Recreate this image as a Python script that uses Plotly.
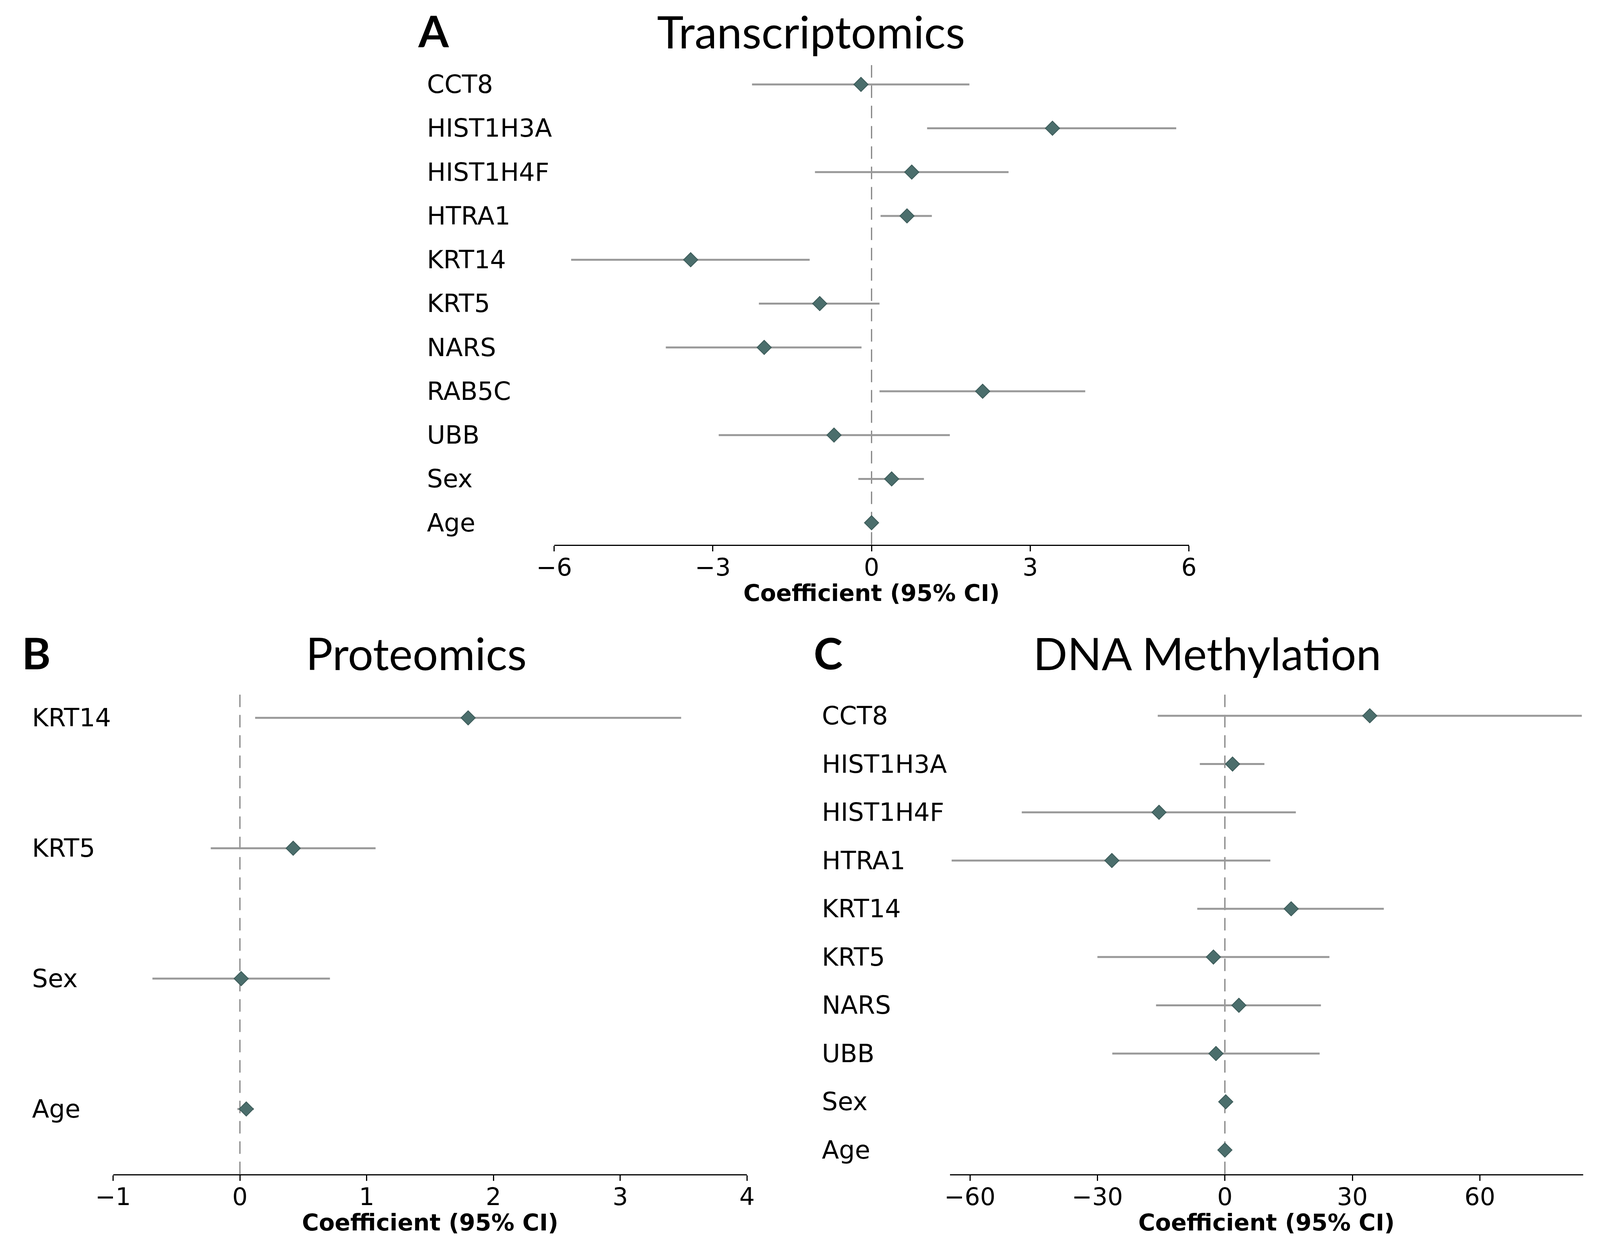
import plotly.graph_objects as go

# Panel A: Transcriptomics
trans_labels = ["CCT8", "HIST1H3A", "HIST1H4F", "HTRA1", "KRT14", "KRT5",
                "NARS", "RAB5C", "UBB", "Sex", "Age"]
trans_coef = [-0.2, 3.42, 0.76, 0.67, -3.42, -0.98, -2.03, 2.10, -0.71, 0.38, 0.0]
trans_low = [-2.26, 1.05, -1.07, 0.17, -5.68, -2.13, -3.89, 0.15, -2.89, -0.25, -0.02]
trans_high = [1.85, 5.76, 2.59, 1.14, -1.17, 0.15, -0.19, 4.04, 1.48, 0.99, 0.02]

# Panel B: Proteomics
prot_labels = ["KRT14", "KRT5", "Sex", "Age"]
prot_coef = [1.80, 0.42, 0.01, 0.05]
prot_low = [0.12, -0.23, -0.69, -0.02]
prot_high = [3.48, 1.07, 0.71, 0.11]

# Panel C: DNA Methylation
meth_labels = ["CCT8", "HIST1H3A", "HIST1H4F", "HTRA1", "KRT14", "KRT5",
               "NARS", "UBB", "Sex", "Age"]
meth_coef = [34.1, 1.8, -15.5, -26.6, 15.6, -2.7, 3.3, -2.1, 0.2, 0.0]
meth_low = [-15.8, -5.9, -47.8, -64.3, -6.5, -30.0, -16.2, -26.5, -0.8, -0.5]
meth_high = [84.0, 9.3, 16.7, 10.7, 37.4, 24.6, 22.6, 22.3, 1.2, 0.5]

x_ticks_a = [-6, -3, 0, 3, 6]
x_ticks_b = [-1, 0, 1, 2, 3, 4]
x_ticks_c = [-60, -30, 0, 30, 60]

MARKER = "#4b6e6c"
EDGE = "#3b5a58"
CI_GREY = "#999999"
LABEL_FONT = dict(family="DejaVu Sans", size=64, color="black")
TICK_FONT = dict(family="DejaVu Sans", size=62, color="black")
XTITLE_FONT = dict(family="DejaVu Sans", size=59, color="black")
TITLE_FONT = dict(family="Lato", size=115, color="black")

panels = [
    # labels, coef, low, high, axis suffix, x domain, y domain, x range, y range, ticks, label x
    (trans_labels, trans_coef, trans_low, trans_high, "",
     [0.340, 0.7448], [0.5614, 0.9519], [-6, 6], [10.5, -0.5], x_ticks_a, 0.2583),
    (prot_labels, prot_coef, prot_low, prot_high, "2",
     [0.0587, 0.463], [0.0516, 0.4412], [-1, 4], [3.5, -0.19], x_ticks_b, 0.0064),
    (meth_labels, meth_coef, meth_low, meth_high, "3",
     [0.5924, 0.9962], [0.0516, 0.4412], [-64.7, 84.3], [9.5, -0.47], x_ticks_c, 0.5102),
]

fig = go.Figure()
annotations = []
shapes = []
layout_axes = {}

for labels, coef, low, high, sfx, xdom, ydom, xrng, yrng, ticks, lab_x in panels:
    plus = [h - c for h, c in zip(high, coef)]
    minus = [c - l for c, l in zip(coef, low)]
    fig.add_trace(go.Scatter(
        x=coef, y=labels, mode="markers",
        xaxis="x" + sfx, yaxis="y" + sfx,
        marker=dict(symbol="diamond", size=28, color=MARKER,
                    line=dict(color=EDGE, width=2)),
        error_x=dict(type="data", symmetric=False, array=plus, arrayminus=minus,
                     width=0, thickness=5, color=CI_GREY),
        showlegend=False, cliponaxis=True,
    ))
    layout_axes["xaxis" + sfx] = dict(
        domain=xdom, range=xrng, anchor="y" + sfx,
        showline=True, linecolor="black", linewidth=3,
        showgrid=False, zeroline=False,
        ticks="outside", ticklen=14, tickwidth=3, tickcolor="black",
        tickvals=ticks, tickfont=TICK_FONT, ticklabelstandoff=-12,
    )
    layout_axes["yaxis" + sfx] = dict(
        domain=ydom, range=yrng, anchor="x" + sfx,
        type="category", categoryarray=labels,
        showline=False, showgrid=False, zeroline=False,
        showticklabels=False, ticks="",
    )
    shapes.append(dict(
        type="line", xref="x" + sfx, yref="y" + sfx + " domain",
        x0=0, x1=0, y0=0, y1=1, layer="below",
        line=dict(color="#808080", width=3, dash="32px,20px"),
    ))
    for lab in labels:
        annotations.append(dict(
            text=lab, x=lab_x, y=lab, xref="paper", yref="y" + sfx,
            xanchor="left", yanchor="middle", showarrow=False, font=LABEL_FONT,
        ))
    # x axis title, placed under the tick labels
    annotations.append(dict(
        text="<b>Coefficient (95% CI)</b>", x=0.5, y=0,
        xref="x" + sfx + " domain", yref="y" + sfx + " domain",
        xanchor="center", yanchor="middle", yshift=-124,
        showarrow=False, font=XTITLE_FONT,
    ))

# panel letters and titles
for letter, lx, title, tx, ty, anchor in [
    ("A", 0.2526, "Transcriptomics", 0.5038, 1.0, "top"),
    ("B", 0.0, "Proteomics", 0.2519, 0.4742, "middle"),
    ("C", 0.505, "DNA Methylation", 0.7564, 0.4742, "middle"),
]:
    annotations.append(dict(
        text="<b>" + letter + "</b>", x=lx, y=ty, xref="paper", yref="paper",
        xanchor="left", yanchor=anchor, showarrow=False,
        font=dict(family="Lato", size=112, color="black"),
    ))
    annotations.append(dict(
        text=title, x=tx, y=ty, xref="paper", yref="paper",
        xanchor="center", yanchor=anchor, showarrow=False,
        font=TITLE_FONT,
    ))

fig.update_layout(
    autosize=True,
    margin=dict(l=0, r=0, t=0, b=0),
    paper_bgcolor="white", plot_bgcolor="white",
    annotations=annotations, shapes=shapes,
    **layout_axes,
)

fig.write_html("out.html", config={"responsive": True})
